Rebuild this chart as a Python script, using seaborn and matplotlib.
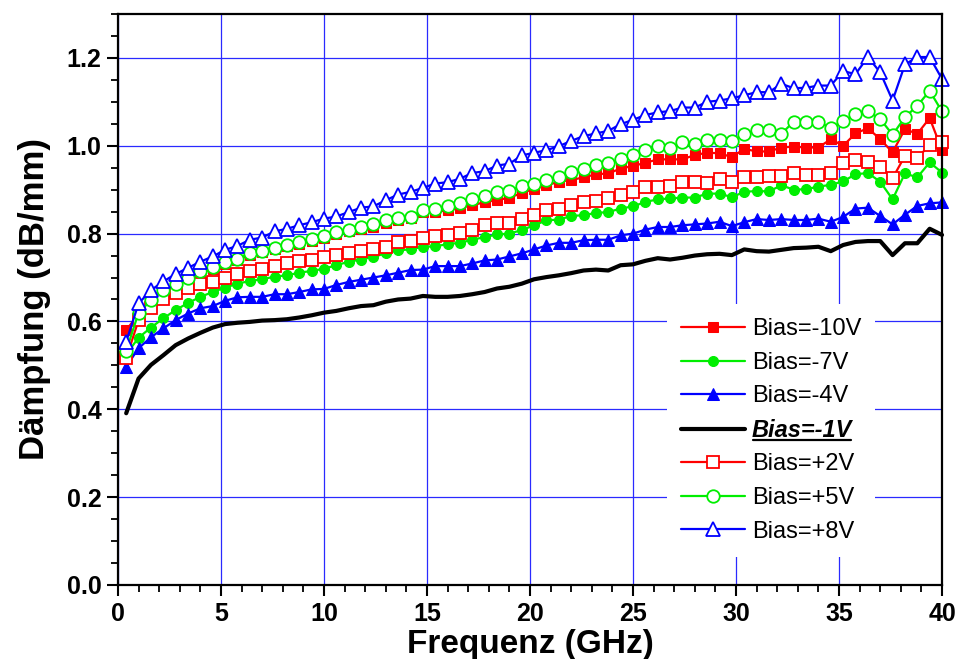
import matplotlib
matplotlib.use("Agg")
import matplotlib.pyplot as plt
from matplotlib.lines import Line2D
from matplotlib.ticker import MultipleLocator
import seaborn as sns
import pandas as pd

freq = [0.4, 1.0, 1.6, 2.2, 2.8, 3.4, 4.0, 4.6, 5.2, 5.8, 6.4, 7.0, 7.6, 8.2, 8.8, 9.4,
        10.0, 10.6, 11.2, 11.8, 12.4, 13.0, 13.6, 14.2, 14.8, 15.4, 16.0, 16.6, 17.2, 17.8,
        18.4, 19.0, 19.6, 20.2, 20.8, 21.4, 22.0, 22.6, 23.2, 23.8, 24.4, 25.0, 25.6, 26.2,
        26.8, 27.4, 28.0, 28.6, 29.2, 29.8, 30.4, 31.0, 31.6, 32.2, 32.8, 33.4, 34.0, 34.6,
        35.2, 35.8, 36.4, 37.0, 37.6, 38.2, 38.8, 39.4, 40.0]

bias_m10 = [0.580, 0.617, 0.645, 0.667, 0.682, 0.695, 0.710, 0.720, 0.731, 0.740, 0.751, 0.757,
            0.764, 0.771, 0.777, 0.783, 0.790, 0.799, 0.805, 0.810, 0.816, 0.824, 0.832, 0.836,
            0.849, 0.849, 0.853, 0.859, 0.864, 0.872, 0.876, 0.882, 0.892, 0.902, 0.910, 0.918,
            0.922, 0.928, 0.935, 0.937, 0.948, 0.954, 0.961, 0.969, 0.969, 0.969, 0.979, 0.984,
            0.983, 0.974, 0.993, 0.987, 0.987, 0.996, 0.998, 0.996, 0.996, 1.015, 1.000, 1.028,
            1.040, 1.015, 0.985, 1.038, 1.027, 1.063, 0.990]
bias_m7 = [0.525, 0.563, 0.586, 0.607, 0.626, 0.642, 0.656, 0.667, 0.677, 0.686, 0.692, 0.696,
           0.702, 0.705, 0.711, 0.715, 0.720, 0.728, 0.736, 0.741, 0.747, 0.755, 0.762, 0.764,
           0.770, 0.771, 0.776, 0.779, 0.786, 0.792, 0.798, 0.800, 0.808, 0.819, 0.830, 0.832,
           0.840, 0.842, 0.847, 0.849, 0.857, 0.862, 0.872, 0.878, 0.880, 0.882, 0.882, 0.891,
           0.891, 0.883, 0.895, 0.897, 0.896, 0.910, 0.900, 0.901, 0.907, 0.911, 0.919, 0.935,
           0.938, 0.918, 0.878, 0.937, 0.928, 0.962, 0.939]
bias_m4 = [0.497, 0.539, 0.564, 0.584, 0.603, 0.618, 0.630, 0.635, 0.647, 0.655, 0.656, 0.656,
           0.662, 0.662, 0.667, 0.673, 0.674, 0.683, 0.690, 0.695, 0.700, 0.705, 0.711, 0.717,
           0.718, 0.726, 0.726, 0.726, 0.732, 0.739, 0.741, 0.748, 0.755, 0.764, 0.773, 0.779,
           0.779, 0.785, 0.786, 0.786, 0.796, 0.800, 0.809, 0.815, 0.815, 0.819, 0.821, 0.823,
           0.827, 0.817, 0.826, 0.833, 0.831, 0.833, 0.831, 0.831, 0.834, 0.827, 0.838, 0.857,
           0.859, 0.840, 0.821, 0.843, 0.863, 0.869, 0.871]
bias_m1 = [0.391, 0.470, 0.501, 0.523, 0.546, 0.561, 0.574, 0.586, 0.594, 0.597, 0.599, 0.602,
           0.603, 0.605, 0.609, 0.614, 0.620, 0.624, 0.630, 0.635, 0.637, 0.645, 0.650, 0.652,
           0.658, 0.656, 0.656, 0.658, 0.662, 0.667, 0.675, 0.679, 0.686, 0.696, 0.701, 0.705,
           0.710, 0.716, 0.718, 0.716, 0.728, 0.730, 0.738, 0.744, 0.741, 0.745, 0.750, 0.753,
           0.754, 0.751, 0.764, 0.760, 0.759, 0.763, 0.767, 0.768, 0.770, 0.760, 0.774, 0.781,
           0.783, 0.783, 0.751, 0.778, 0.778, 0.811, 0.797]
bias_p2 = [0.516, 0.603, 0.630, 0.650, 0.665, 0.677, 0.685, 0.690, 0.700, 0.708, 0.715, 0.720,
           0.727, 0.733, 0.737, 0.739, 0.746, 0.751, 0.755, 0.760, 0.766, 0.770, 0.781, 0.783,
           0.791, 0.794, 0.796, 0.802, 0.808, 0.819, 0.823, 0.824, 0.833, 0.842, 0.853, 0.857,
           0.865, 0.872, 0.875, 0.880, 0.887, 0.895, 0.905, 0.906, 0.908, 0.918, 0.918, 0.916,
           0.925, 0.917, 0.928, 0.928, 0.932, 0.932, 0.939, 0.933, 0.933, 0.937, 0.960, 0.967,
           0.964, 0.952, 0.926, 0.977, 0.972, 1.002, 1.008]
bias_p5 = [0.533, 0.620, 0.648, 0.671, 0.685, 0.698, 0.714, 0.724, 0.735, 0.743, 0.755, 0.761,
           0.768, 0.775, 0.781, 0.787, 0.794, 0.804, 0.809, 0.814, 0.821, 0.830, 0.836, 0.838,
           0.853, 0.857, 0.862, 0.870, 0.878, 0.885, 0.895, 0.898, 0.908, 0.914, 0.923, 0.929,
           0.941, 0.948, 0.956, 0.960, 0.969, 0.979, 0.990, 1.000, 0.995, 1.008, 1.005, 1.014,
           1.014, 1.011, 1.026, 1.036, 1.036, 1.027, 1.055, 1.055, 1.055, 1.040, 1.056, 1.072,
           1.078, 1.061, 1.025, 1.065, 1.091, 1.125, 1.078]
bias_p8 = [0.554, 0.641, 0.671, 0.691, 0.708, 0.722, 0.736, 0.748, 0.763, 0.772, 0.786, 0.791,
           0.805, 0.811, 0.819, 0.826, 0.834, 0.839, 0.849, 0.859, 0.862, 0.876, 0.889, 0.895,
           0.904, 0.914, 0.917, 0.925, 0.938, 0.942, 0.955, 0.959, 0.978, 0.984, 0.990, 0.999,
           1.011, 1.022, 1.028, 1.034, 1.049, 1.059, 1.070, 1.076, 1.079, 1.087, 1.087, 1.100,
           1.103, 1.108, 1.115, 1.122, 1.122, 1.141, 1.131, 1.132, 1.137, 1.137, 1.170, 1.163,
           1.202, 1.167, 1.103, 1.185, 1.202, 1.202, 1.152]

labels = ["Bias=-10V", "Bias=-7V", "Bias=-4V", "Bias=-1V", "Bias=+2V", "Bias=+5V", "Bias=+8V"]
values = [bias_m10, bias_m7, bias_m4, bias_m1, bias_p2, bias_p5, bias_p8]

RED, GREEN, BLUE = "#ff0000", "#00ee00", "#0000ff"
styles = [
    dict(color=RED, marker="s", markersize=6.8, markerfacecolor=RED, markeredgecolor=RED, linewidth=1.6),
    dict(color=GREEN, marker="o", markersize=7.2, markerfacecolor=GREEN, markeredgecolor=GREEN, linewidth=1.6),
    dict(color=BLUE, marker="^", markersize=8.0, markerfacecolor=BLUE, markeredgecolor=BLUE, linewidth=1.6),
    dict(color="black", marker=None, linewidth=3.0),
    dict(color=RED, marker="s", markersize=8.2, markerfacecolor="white", markeredgecolor=RED,
         markeredgewidth=1.3, linewidth=1.6),
    dict(color=GREEN, marker="o", markersize=9.0, markerfacecolor="white", markeredgecolor=GREEN,
         markeredgewidth=1.3, linewidth=1.6),
    dict(color=BLUE, marker="^", markersize=10.2, markerfacecolor="white", markeredgecolor=BLUE,
         markeredgewidth=1.3, linewidth=1.6),
]

sns.set_style("ticks")
plt.rcParams["font.family"] = ["Liberation Sans", "DejaVu Sans"]
plt.rcParams["text.color"] = "black"
plt.rcParams["axes.labelcolor"] = "black"
plt.rcParams["xtick.color"] = "black"
plt.rcParams["ytick.color"] = "black"

fig = plt.figure(figsize=(9.59, 6.59), dpi=100)
ax = fig.add_axes([0.1230, 0.1123, 0.8593, 0.8665])

for lab, vals, st in zip(labels, values, styles):
    df = pd.DataFrame({"f": freq, "v": vals})
    sns.lineplot(data=df, x="f", y="v", ax=ax, label=lab, clip_on=False, **st)

ax.set_xlim(0, 40)
ax.set_ylim(0, 1.3)
ax.xaxis.set_major_locator(MultipleLocator(5))
ax.xaxis.set_minor_locator(MultipleLocator(1))
ax.yaxis.set_minor_locator(MultipleLocator(0.05))
ax.set_yticks([0.0, 0.2, 0.4, 0.6, 0.8, 1.0, 1.2])
ax.set_yticklabels(["0.0", "0.2", "0.4", "0.6", "0.8", "1.0", "1.2"])

ax.grid(True, which="major", color="#2a2aff", linewidth=0.9)
ax.set_axisbelow(True)
for sp in ax.spines.values():
    sp.set_linewidth(1.6)
    sp.set_color("black")

ax.tick_params(axis="both", which="major", direction="out", length=8, width=1.5,
               labelsize=18, pad=4, colors="black", labelcolor="black")
ax.tick_params(axis="both", which="minor", direction="out", length=5, width=1.3, colors="black")
for t in ax.get_xticklabels() + ax.get_yticklabels():
    t.set_fontweight("bold")
    t.set_color("black")

ax.set_xlabel("Frequenz (GHz)", fontsize=24, fontweight="bold", color="black")
ax.set_ylabel("Dämpfung (dB/mm)", fontsize=25, fontweight="bold", color="black")
ax.xaxis.set_label_coords(0.5, -0.077)
ax.yaxis.set_label_coords(-0.081, 0.5)

leg = ax.legend(loc="upper left", bbox_to_anchor=(0.666, 0.492), frameon=True,
                fancybox=False, framealpha=1.0, facecolor="white", edgecolor="none",
                fontsize=17, handlelength=2.7, handletextpad=0.3, labelspacing=0.49,
                borderpad=0.6, borderaxespad=0.0)
leg.set_zorder(5)
for t in leg.get_texts():
    t.set_color("black")
special = leg.get_texts()[3]
special.set_fontweight("bold")
special.set_fontstyle("italic")

fig.canvas.draw()
bb = special.get_window_extent()
inv = fig.transFigure.inverted()
(x0, y0) = inv.transform((bb.x0 + 1, bb.y0 + 2))
(x1, _) = inv.transform((bb.x1 - 1, bb.y0 + 2))
fig.add_artist(Line2D([x0, x1], [y0, y0], transform=fig.transFigure, color="black",
                      linewidth=1.6, zorder=10))

fig.savefig("out.png", dpi=100)
